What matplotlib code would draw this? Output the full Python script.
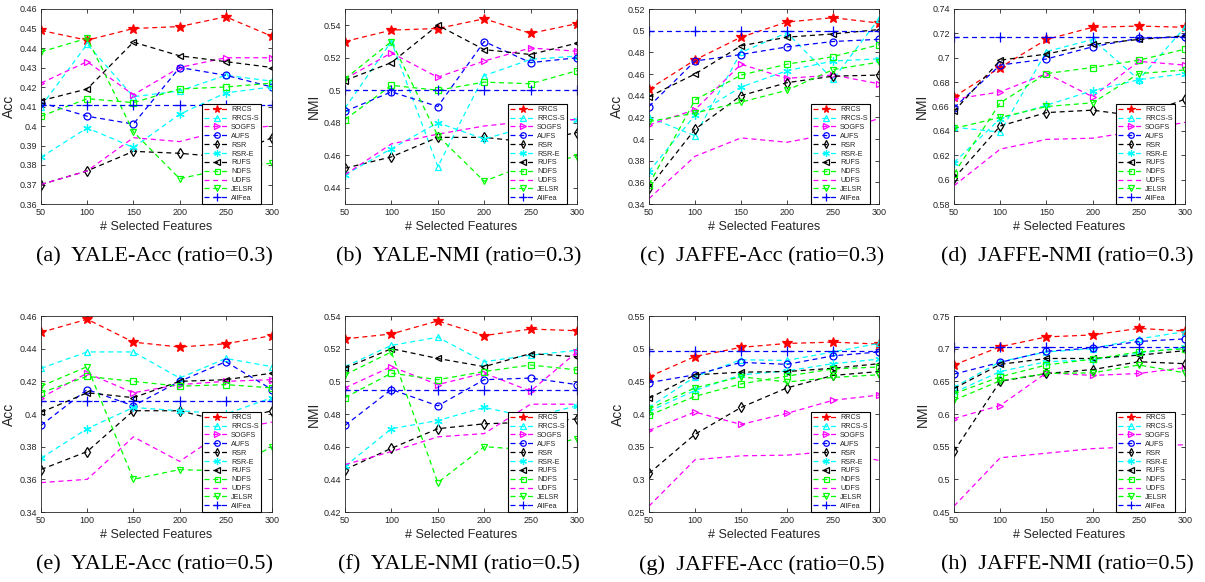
import matplotlib
matplotlib.use("Agg")
import matplotlib.pyplot as plt

# -----------------------------------------------
# DATA
# -----------------------------------------------
X = [50, 100, 150, 200, 250, 300]
METHODS = ["RRCS", "RRCS-S", "SOGFS", "AUFS", "RSR", "RSR-E",
           "RUFS", "NDFS", "UDFS", "JELSR", "AllFea"]

# (a) YALE-Acc ratio=0.3
yale_acc_03 = [
    [0.449, 0.444, 0.450, 0.451, 0.456, 0.446],
    [0.410, 0.442, 0.415, 0.418, 0.426, 0.423],
    [0.422, 0.433, 0.416, 0.430, 0.435, 0.435],
    [0.412, 0.405, 0.401, 0.430, 0.426, 0.420],
    [0.370, 0.377, 0.387, 0.386, 0.384, 0.394],
    [0.384, 0.399, 0.389, 0.406, 0.417, 0.420],
    [0.413, 0.419, 0.443, 0.436, 0.433, 0.430],
    [0.405, 0.414, 0.412, 0.419, 0.420, 0.422],
    [0.370, 0.377, 0.394, 0.392, 0.398, 0.400],
    [0.438, 0.445, 0.397, 0.373, 0.378, 0.381],
    [0.411, 0.411, 0.411, 0.411, 0.411, 0.411],
]
# (b) YALE-NMI ratio=0.3
yale_nmi_03 = [
    [0.530, 0.537, 0.538, 0.544, 0.535, 0.541],
    [0.489, 0.530, 0.453, 0.509, 0.519, 0.521],
    [0.507, 0.523, 0.508, 0.518, 0.526, 0.524],
    [0.487, 0.499, 0.490, 0.530, 0.517, 0.520],
    [0.452, 0.459, 0.471, 0.471, 0.468, 0.474],
    [0.448, 0.464, 0.480, 0.470, 0.478, 0.482],
    [0.506, 0.517, 0.540, 0.525, 0.522, 0.529],
    [0.482, 0.503, 0.500, 0.505, 0.504, 0.512],
    [0.448, 0.467, 0.473, 0.478, 0.481, 0.482],
    [0.507, 0.530, 0.472, 0.444, 0.455, 0.459],
    [0.500, 0.500, 0.500, 0.500, 0.500, 0.500],
]
# (c) JAFFE-Acc ratio=0.3
jaffe_acc_03 = [
    [0.446, 0.473, 0.494, 0.508, 0.512, 0.507],
    [0.420, 0.403, 0.480, 0.498, 0.455, 0.511],
    [0.413, 0.427, 0.469, 0.456, 0.459, 0.451],
    [0.430, 0.472, 0.478, 0.485, 0.490, 0.492],
    [0.355, 0.409, 0.440, 0.452, 0.458, 0.459],
    [0.370, 0.422, 0.448, 0.463, 0.472, 0.474],
    [0.439, 0.460, 0.486, 0.494, 0.497, 0.501],
    [0.358, 0.436, 0.459, 0.469, 0.476, 0.487],
    [0.345, 0.384, 0.401, 0.397, 0.405, 0.419],
    [0.416, 0.424, 0.434, 0.445, 0.464, 0.471],
    [0.500, 0.500, 0.500, 0.500, 0.500, 0.500],
]
# (d) JAFFE-NMI ratio=0.3
jaffe_nmi_03 = [
    [0.668, 0.692, 0.715, 0.725, 0.726, 0.725],
    [0.643, 0.639, 0.705, 0.715, 0.682, 0.725],
    [0.666, 0.672, 0.687, 0.668, 0.697, 0.694],
    [0.659, 0.694, 0.699, 0.709, 0.716, 0.717],
    [0.601, 0.644, 0.655, 0.657, 0.652, 0.666],
    [0.614, 0.650, 0.661, 0.673, 0.682, 0.687],
    [0.656, 0.698, 0.703, 0.711, 0.715, 0.718],
    [0.605, 0.663, 0.687, 0.692, 0.698, 0.707],
    [0.595, 0.625, 0.633, 0.634, 0.640, 0.647],
    [0.642, 0.651, 0.660, 0.663, 0.687, 0.690],
    [0.717, 0.717, 0.717, 0.717, 0.717, 0.717],
]
# (e) YALE-Acc ratio=0.5
yale_acc_05 = [
    [0.450, 0.458, 0.444, 0.441, 0.443, 0.448],
    [0.428, 0.438, 0.438, 0.422, 0.434, 0.429],
    [0.410, 0.425, 0.413, 0.418, 0.420, 0.421],
    [0.393, 0.415, 0.405, 0.420, 0.432, 0.415],
    [0.366, 0.377, 0.402, 0.402, 0.395, 0.402],
    [0.373, 0.391, 0.404, 0.402, 0.400, 0.410],
    [0.401, 0.413, 0.410, 0.420, 0.421, 0.425],
    [0.413, 0.423, 0.420, 0.417, 0.418, 0.416],
    [0.358, 0.360, 0.386, 0.371, 0.390, 0.395],
    [0.417, 0.429, 0.360, 0.366, 0.365, 0.380],
    [0.408, 0.408, 0.408, 0.408, 0.408, 0.408],
]
# (f) YALE-NMI ratio=0.5
yale_nmi_05 = [
    [0.526, 0.529, 0.537, 0.528, 0.532, 0.531],
    [0.509, 0.522, 0.527, 0.512, 0.516, 0.519],
    [0.496, 0.509, 0.498, 0.505, 0.494, 0.518],
    [0.473, 0.495, 0.485, 0.501, 0.502, 0.498],
    [0.446, 0.459, 0.471, 0.474, 0.475, 0.477],
    [0.448, 0.471, 0.476, 0.484, 0.478, 0.485],
    [0.508, 0.520, 0.514, 0.509, 0.517, 0.515],
    [0.490, 0.505, 0.501, 0.506, 0.510, 0.507],
    [0.449, 0.457, 0.466, 0.468, 0.486, 0.486],
    [0.504, 0.518, 0.438, 0.460, 0.458, 0.465],
    [0.495, 0.495, 0.495, 0.495, 0.495, 0.495],
]
# (g) JAFFE-Acc ratio=0.5
jaffe_acc_05 = [
    [0.457, 0.488, 0.502, 0.508, 0.510, 0.507],
    [0.410, 0.457, 0.483, 0.482, 0.495, 0.508],
    [0.375, 0.403, 0.384, 0.401, 0.421, 0.429],
    [0.448, 0.460, 0.479, 0.476, 0.489, 0.495],
    [0.309, 0.369, 0.410, 0.440, 0.459, 0.465],
    [0.404, 0.436, 0.460, 0.466, 0.477, 0.484],
    [0.424, 0.460, 0.464, 0.465, 0.470, 0.477],
    [0.398, 0.427, 0.446, 0.458, 0.469, 0.472],
    [0.259, 0.330, 0.336, 0.337, 0.343, 0.329],
    [0.408, 0.440, 0.457, 0.449, 0.456, 0.460],
    [0.496, 0.496, 0.496, 0.496, 0.496, 0.496],
]
# (h) JAFFE-NMI ratio=0.5
jaffe_nmi_05 = [
    [0.675, 0.703, 0.718, 0.721, 0.731, 0.727],
    [0.641, 0.680, 0.695, 0.700, 0.715, 0.726],
    [0.593, 0.613, 0.663, 0.659, 0.662, 0.671],
    [0.661, 0.679, 0.696, 0.701, 0.711, 0.715],
    [0.543, 0.650, 0.662, 0.668, 0.680, 0.677],
    [0.633, 0.665, 0.680, 0.683, 0.693, 0.702],
    [0.639, 0.676, 0.685, 0.685, 0.690, 0.697],
    [0.631, 0.657, 0.675, 0.684, 0.695, 0.700],
    [0.459, 0.533, 0.540, 0.547, 0.550, 0.553],
    [0.621, 0.651, 0.662, 0.663, 0.675, 0.663],
    [0.703, 0.703, 0.703, 0.703, 0.703, 0.703],
]

PANELS = [
    ("(a)  YALE-Acc (ratio=0.3)", "Acc", yale_acc_03, (0.36, 0.46), [0.36, 0.37, 0.38, 0.39, 0.40, 0.41, 0.42, 0.43, 0.44, 0.45, 0.46], ["0.36", "0.37", "0.38", "0.39", "0.4", "0.41", "0.42", "0.43", "0.44", "0.45", "0.46"]),
    ("(b)  YALE-NMI (ratio=0.3)", "NMI", yale_nmi_03, (0.43, 0.55), [0.44, 0.46, 0.48, 0.50, 0.52, 0.54], ["0.44", "0.46", "0.48", "0.5", "0.52", "0.54"]),
    ("(c)  JAFFE-Acc (ratio=0.3)", "Acc", jaffe_acc_03, (0.34, 0.52), [0.34, 0.36, 0.38, 0.40, 0.42, 0.44, 0.46, 0.48, 0.50, 0.52], ["0.34", "0.36", "0.38", "0.4", "0.42", "0.44", "0.46", "0.48", "0.5", "0.52"]),
    ("(d)  JAFFE-NMI (ratio=0.3)", "NMI", jaffe_nmi_03, (0.58, 0.74), [0.58, 0.60, 0.62, 0.64, 0.66, 0.68, 0.70, 0.72, 0.74], ["0.58", "0.6", "0.62", "0.64", "0.66", "0.68", "0.7", "0.72", "0.74"]),
    ("(e)  YALE-Acc (ratio=0.5)", "Acc", yale_acc_05, (0.34, 0.46), [0.34, 0.36, 0.38, 0.40, 0.42, 0.44, 0.46], ["0.34", "0.36", "0.38", "0.4", "0.42", "0.44", "0.46"]),
    ("(f)  YALE-NMI (ratio=0.5)", "NMI", yale_nmi_05, (0.42, 0.54), [0.42, 0.44, 0.46, 0.48, 0.50, 0.52, 0.54], ["0.42", "0.44", "0.46", "0.48", "0.5", "0.52", "0.54"]),
    ("(g)  JAFFE-Acc (ratio=0.5)", "Acc", jaffe_acc_05, (0.25, 0.55), [0.25, 0.30, 0.35, 0.40, 0.45, 0.50, 0.55], ["0.25", "0.3", "0.35", "0.4", "0.45", "0.5", "0.55"]),
    ("(h)  JAFFE-NMI (ratio=0.5)", "NMI", jaffe_nmi_05, (0.45, 0.75), [0.45, 0.50, 0.55, 0.60, 0.65, 0.70, 0.75], ["0.45", "0.5", "0.55", "0.6", "0.65", "0.7", "0.75"]),
]

# -----------------------------------------------
# STYLE (matlab-like)
# -----------------------------------------------
ASTERISK = (6, 2, 0)
STYLES = [
    dict(color="#ff0000", marker="*", mfc="#ff0000", ms=7),
    dict(color="#00ffff", marker="^", mfc="none", ms=5),
    dict(color="#ff00ff", marker=">", mfc="none", ms=5),
    dict(color="#0000ff", marker="o", mfc="none", ms=5),
    dict(color="#000000", marker="d", mfc="none", ms=5),
    dict(color="#00ffff", marker=ASTERISK, mfc="none", ms=6),
    dict(color="#000000", marker="<", mfc="none", ms=5),
    dict(color="#00ff00", marker="s", mfc="none", ms=4.5),
    dict(color="#ff00ff", marker="", mfc="none", ms=5),
    dict(color="#00ff00", marker="v", mfc="none", ms=5),
    dict(color="#0000ff", marker="+", mfc="none", ms=7),
]

plt.rcParams["font.family"] = ["Liberation Sans", "DejaVu Sans"]

W, H = 1205, 582
fig = plt.figure(figsize=(W / 100, H / 100), dpi=100)

COL_L = [41, 345, 649, 954]
COL_R = [272, 577, 879, 1185]
LEG_R = [261, 567, 870, 1175]
ROW_T = [9, 316]
ROW_B = [204, 512]
CAP_Y = [257, 565]
TXT = "#262626"

for i, (cap, ylab, data, ylim, yt, ytl) in enumerate(PANELS):
    r, c = divmod(i, 4)
    l, rr = COL_L[c], COL_R[c]
    t, b = ROW_T[r], ROW_B[r]
    ax = fig.add_axes([l / W, 1 - b / H, (rr - l) / W, (b - t) / H])
    for name, ys, st in zip(METHODS, data, STYLES):
        ax.plot(X, ys, linestyle=(0, (4, 3)), lw=0.9, color=st["color"],
                marker=st["marker"], markerfacecolor=st["mfc"],
                markeredgecolor=st["color"], markersize=st["ms"],
                markeredgewidth=0.9, label=name)
    ax.set_xlim(50, 300)
    ax.set_ylim(*ylim)
    ax.set_xticks(X)
    ax.set_yticks(yt)
    ax.set_yticklabels(ytl)
    ax.tick_params(direction="in", labelsize=6.5, length=3, width=0.6,
                   top=True, right=True, colors=TXT, pad=3)
    for sp in ax.spines.values():
        sp.set_linewidth(0.6)
        sp.set_color(TXT)
    ax.set_xlabel("# Selected Features", fontsize=9, color=TXT, labelpad=3)
    ax.set_ylabel(ylab, fontsize=10, color=TXT, labelpad=2)
    leg = ax.legend(loc="lower right", bbox_to_anchor=((LEG_R[c] - l) / (rr - l), 0.0),
                    fontsize=5.2, handlelength=3.4, borderaxespad=0.0,
                    labelspacing=0.25, handletextpad=0.3, borderpad=0.3,
                    markerscale=0.8, fancybox=False, framealpha=1)
    leg.get_frame().set_edgecolor("#000000")
    leg.get_frame().set_linewidth(0.8)
    for txt in leg.get_texts():
        txt.set_color(TXT)
    fig.text((l + rr) / 2 / W - 0.002, 1 - CAP_Y[r] / H, cap, ha="center", va="center",
             fontsize=16, family="Liberation Serif")

fig.savefig("out.png", dpi=100)
